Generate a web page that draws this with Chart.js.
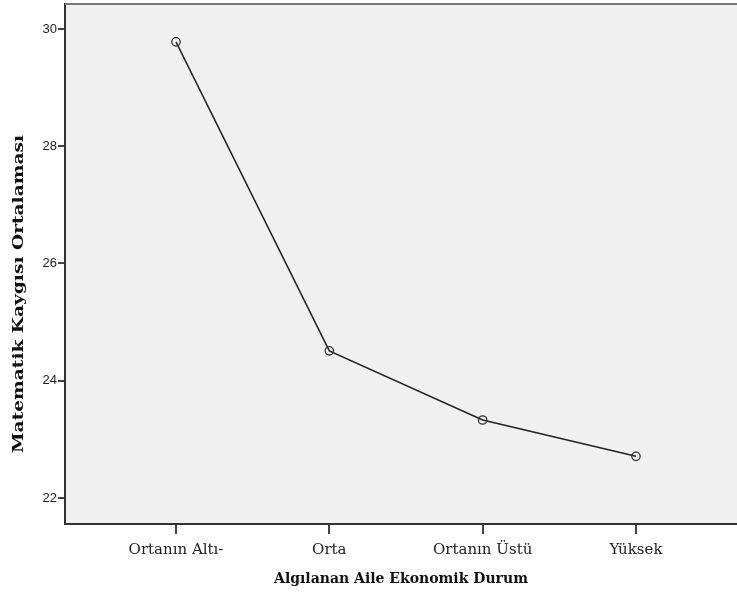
<!DOCTYPE html>
<html>
<head>
<meta charset="utf-8">
<script src="https://cdn.jsdelivr.net/npm/chart.js@4.4.1/dist/chart.umd.min.js"></script>
<style>
  html, body { margin: 0; padding: 0; background: #fff; }
  #wrap { width: 737px; height: 598px; }
</style>
</head>
<body>
<div id="wrap"><canvas id="means" width="737" height="598"></canvas></div>
<script>
// categories and group means
const categories = ['Ortanın Altı-', 'Orta', 'Ortanın Üstü', 'Yüksek'];
const meanValues = [29.78, 24.51, 23.33, 22.71];
const yTicks = [22, 24, 26, 28, 30];
const yTitle = 'Matematik Kaygısı Ortalaması';
const xTitle = 'Algılanan Aile Ekonomik Durum';

// grey plot background, top frame line and the stretched y title
const plotFrame = {
    id: 'plotFrame',
    beforeDraw(chart) {
        const a = chart.chartArea;
        const ctx = chart.ctx;
        ctx.save();
        ctx.fillStyle = '#f0f0f0';
        ctx.fillRect(a.left, a.top, a.right - a.left, a.bottom - a.top);
        ctx.restore();
    },
    afterDraw(chart) {
        const a = chart.chartArea;
        const ctx = chart.ctx;
        ctx.save();
        ctx.strokeStyle = '#777';
        ctx.lineWidth = 2;
        ctx.beginPath();
        ctx.moveTo(a.left, a.top);
        ctx.lineTo(a.right, a.top);
        ctx.stroke();
        ctx.restore();

        ctx.save();
        ctx.font = 'bold 14px "DejaVu Serif"';
        ctx.fillStyle = '#111';
        ctx.textAlign = 'center';
        ctx.textBaseline = 'middle';
        let w = ctx.measureText(yTitle).width;
        ctx.translate(19, 294);
        ctx.rotate(-Math.PI / 2);
        ctx.scale(318 / w, 1);
        ctx.fillText(yTitle, 0, 0);
        ctx.restore();
    }
};

function chartLoader(){
    let ctx = document.getElementById('means').getContext('2d');
    let meansChart = new Chart(ctx, {
    type: 'line',
    data: {
        datasets: [{
            label: yTitle,
            data: meanValues.map((v, i) => ({x: i + 1, y: v})),
            borderColor: '#222',
            borderWidth: 1.5,
            pointRadius: 4.2,
            pointBorderWidth: 1.3,
            pointBorderColor: '#333',
            pointBackgroundColor: 'rgba(0,0,0,0)',
            fill: false,
            tension: 0
        }]
    },
    options: {
        responsive: false,
        animation: false,
        layout: { autoPadding: false, padding: { top: 4, right: 0, left: 0, bottom: 0 } },
        plugins: {
            legend: { display: false },
            tooltip: { enabled: false }
        },
        scales: {
            x: {
                type: 'linear',
                min: 0.276,
                max: 4.659,
                afterBuildTicks: (scale) => { scale.ticks = categories.map((c, i) => ({value: i + 1})); },
                afterFit: (scale) => {
                    scale.height = 74;
                    scale.paddingLeft = 0;
                    scale.paddingRight = 0;
                },
                ticks: {
                    callback: (v) => categories[v - 1],
                    color: '#222',
                    font: { family: 'DejaVu Serif', size: 15 },
                    padding: 7,
                    maxRotation: 0,
                    autoSkip: false
                },
                grid: { drawOnChartArea: false, drawTicks: true, tickLength: 10, color: '#444', lineWidth: 2 },
                border: { display: true, color: '#333', width: 2 },
                title: {
                    display: true,
                    text: xTitle,
                    color: '#111',
                    font: { family: 'DejaVu Serif', size: 14, weight: 'bold' },
                    padding: { top: 4, bottom: 10 }
                }
            },
            y: {
                min: 21.556,
                max: 30.426,
                afterBuildTicks: (scale) => { scale.ticks = yTicks.map(v => ({value: v})); },
                afterFit: (scale) => {
                    scale.width = 65;
                    scale.paddingTop = 0;
                    scale.paddingBottom = 0;
                },
                ticks: {
                    color: '#222',
                    font: { family: 'Liberation Sans', size: 13 },
                    padding: 1
                },
                grid: { drawOnChartArea: false, drawTicks: true, tickLength: 7, color: '#444', lineWidth: 2 },
                border: { display: true, color: '#333', width: 2 },
                title: { display: false }
            }
        }
    },
    plugins: [plotFrame]
    });
}
window.onload = function(){
    chartLoader();
}
</script>
</body>
</html>
